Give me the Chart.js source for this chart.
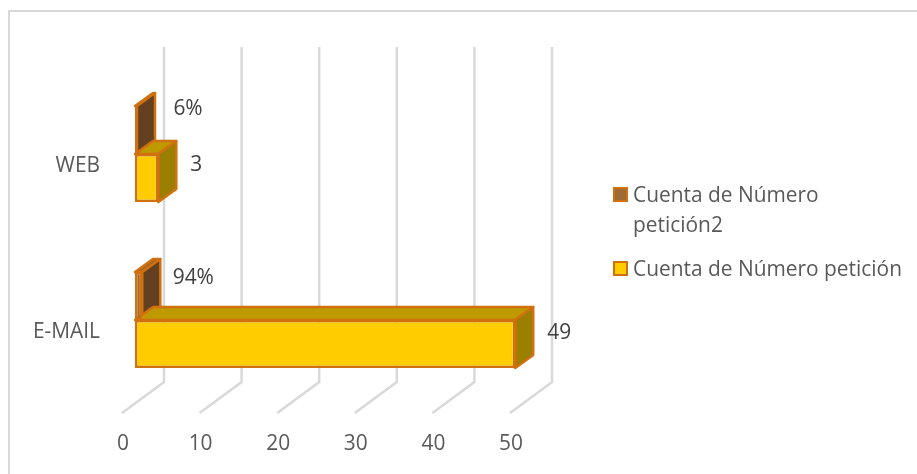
<!DOCTYPE html>
<html>
<head>
<meta charset="utf-8">
<title>Cuenta de Número petición</title>
<script src="https://cdn.jsdelivr.net/npm/chart.js@4"></script>
<style>
    html, body { margin: 0; padding: 0; background: #fff; }
    #wrap { position: relative; width: 917px; height: 474px; overflow: hidden; }
    #frame { position: absolute; left: 8px; top: 10px; width: 920px; height: 480px; border: 2px solid #d9d9d9; box-sizing: border-box; }
    canvas { position: absolute; left: 0; top: 0; }
    .key { position: absolute; left: 633px; font: 20.9px/30px "Open Sans", sans-serif; color: #595959; white-space: nowrap; }
    .key i { position: absolute; left: -20px; top: 8px; width: 15px; height: 15px; box-sizing: border-box; border: 2px solid #d0700f; }
</style>
</head>
<body>
<div id="wrap">
    <div id="frame"></div>
    <canvas id="chart" width="917" height="474"></canvas>
    <div class="key" style="top:179px"><i style="background:#9e6b35"></i>Cuenta de Número<br>petición2</div>
    <div class="key" style="top:253px"><i style="background:#ffcc00"></i>Cuenta de Número petición</div>
</div>
<script>
const categories = ["WEB", "E-MAIL"];
const pctName = "Cuenta de Número petición2";
const pctValues = [0.06, 0.94];
const pctLabels = ["6%", "94%"];
const countName = "Cuenta de Número petición";
const countValues = [3, 49];
const countLabels = ["3", "49"];
const xTicks = [0, 10, 20, 30, 40, 50];

const EDGE = '#d0700f';
const DEPTH_X = 18, DEPTH_Y = 13;

// side and top faces of each bar, drawn behind the flat bars of the library
const faces = [
    { top: '#a5682a', side: '#634020' },
    { top: '#bf9900', side: '#9a7f00' }
];
// where the value labels sit, relative to the end of the bar front
const labelShift = [
    { align: 'center', dx: 51, dy: [-21, -18] },
    { align: 'left', dx: 32, dy: [-13, -11] }
];

function poly(ctx, pts, fill) {
    ctx.beginPath();
    pts.forEach((p, i) => i ? ctx.lineTo(p[0], p[1]) : ctx.moveTo(p[0], p[1]));
    ctx.closePath();
    ctx.fillStyle = fill;
    ctx.fill();
    ctx.strokeStyle = EDGE;
    ctx.lineWidth = 2.5;
    ctx.lineJoin = 'round';
    ctx.stroke();
}

const walls = {
    id: 'walls',
    beforeDatasetsDraw(c) {
        const ctx = c.ctx, x = c.scales.x;
        ctx.save();
        ctx.strokeStyle = '#d9d9d9';
        ctx.lineWidth = 2.5;
        xTicks.forEach(t => {
            const px = x.getPixelForValue(t);
            ctx.beginPath();
            ctx.moveTo(px + 29, 47);
            ctx.lineTo(px + 29, 382);
            ctx.lineTo(px - 13, 413);
            ctx.stroke();
        });
        c.data.datasets.forEach((ds, d) => {
            c.getDatasetMeta(d).data.forEach(el => {
                const b = el.getProps(['x', 'y', 'base', 'height'], true);
                const t = b.y - b.height / 2, u = b.y + b.height / 2;
                const end = Math.max(b.x, b.base + 1);
                poly(ctx, [[b.base, t], [b.base + DEPTH_X, t - DEPTH_Y], [end + DEPTH_X, t - DEPTH_Y], [end, t]], faces[d].top);
                poly(ctx, [[end, t], [end + DEPTH_X, t - DEPTH_Y], [end + DEPTH_X, u - DEPTH_Y], [end, u]], faces[d].side);
            });
        });
        ctx.restore();
    },
    afterDatasetsDraw(c) {
        const ctx = c.ctx;
        ctx.save();
        ctx.font = '20.9px "Open Sans", sans-serif';
        ctx.fillStyle = '#404040';
        ctx.textBaseline = 'middle';
        [pctLabels, countLabels].forEach((labels, d) => {
            const s = labelShift[d];
            ctx.textAlign = s.align;
            c.getDatasetMeta(d).data.forEach((el, i) => {
                ctx.fillText(labels[i], el.x + s.dx, el.y + s.dy[i]);
            });
        });
        ctx.restore();
    }
};

new Chart(document.getElementById('chart'), {
    type: 'bar',
    data: {
        labels: categories,
        datasets: [
            { label: pctName, data: pctValues, backgroundColor: '#a5682a', borderColor: EDGE, borderWidth: 2.5, borderSkipped: false, minBarLength: 2 },
            { label: countName, data: countValues, backgroundColor: '#ffcc00', borderColor: EDGE, borderWidth: 2.5, borderSkipped: false }
        ]
    },
    options: {
        indexAxis: 'y',
        responsive: false,
        animation: false,
        devicePixelRatio: 1,
        categoryPercentage: 0.578,
        barPercentage: 1,
        layout: { padding: { left: 0, right: 394, top: 71, bottom: 0 } },
        plugins: { legend: { display: false }, tooltip: { enabled: false } },
        scales: {
            x: {
                min: 0, max: 50,
                border: { display: false },
                grid: { display: false },
                afterFit: s => { s.height = 71; },
                afterBuildTicks: s => { s.ticks = xTicks.map(v => ({ value: v })); },
                ticks: { color: '#595959', font: { family: 'Open Sans', size: 20.9 }, padding: 21, labelOffset: -12, maxRotation: 0 }
            },
            y: {
                border: { display: false },
                grid: { display: false },
                afterFit: s => { s.width = 135; },
                ticks: { color: '#595959', font: { family: 'Open Sans', size: 20.9 }, padding: 27, labelOffset: 12 }
            }
        }
    },
    plugins: [walls]
});
</script>
</body>
</html>
